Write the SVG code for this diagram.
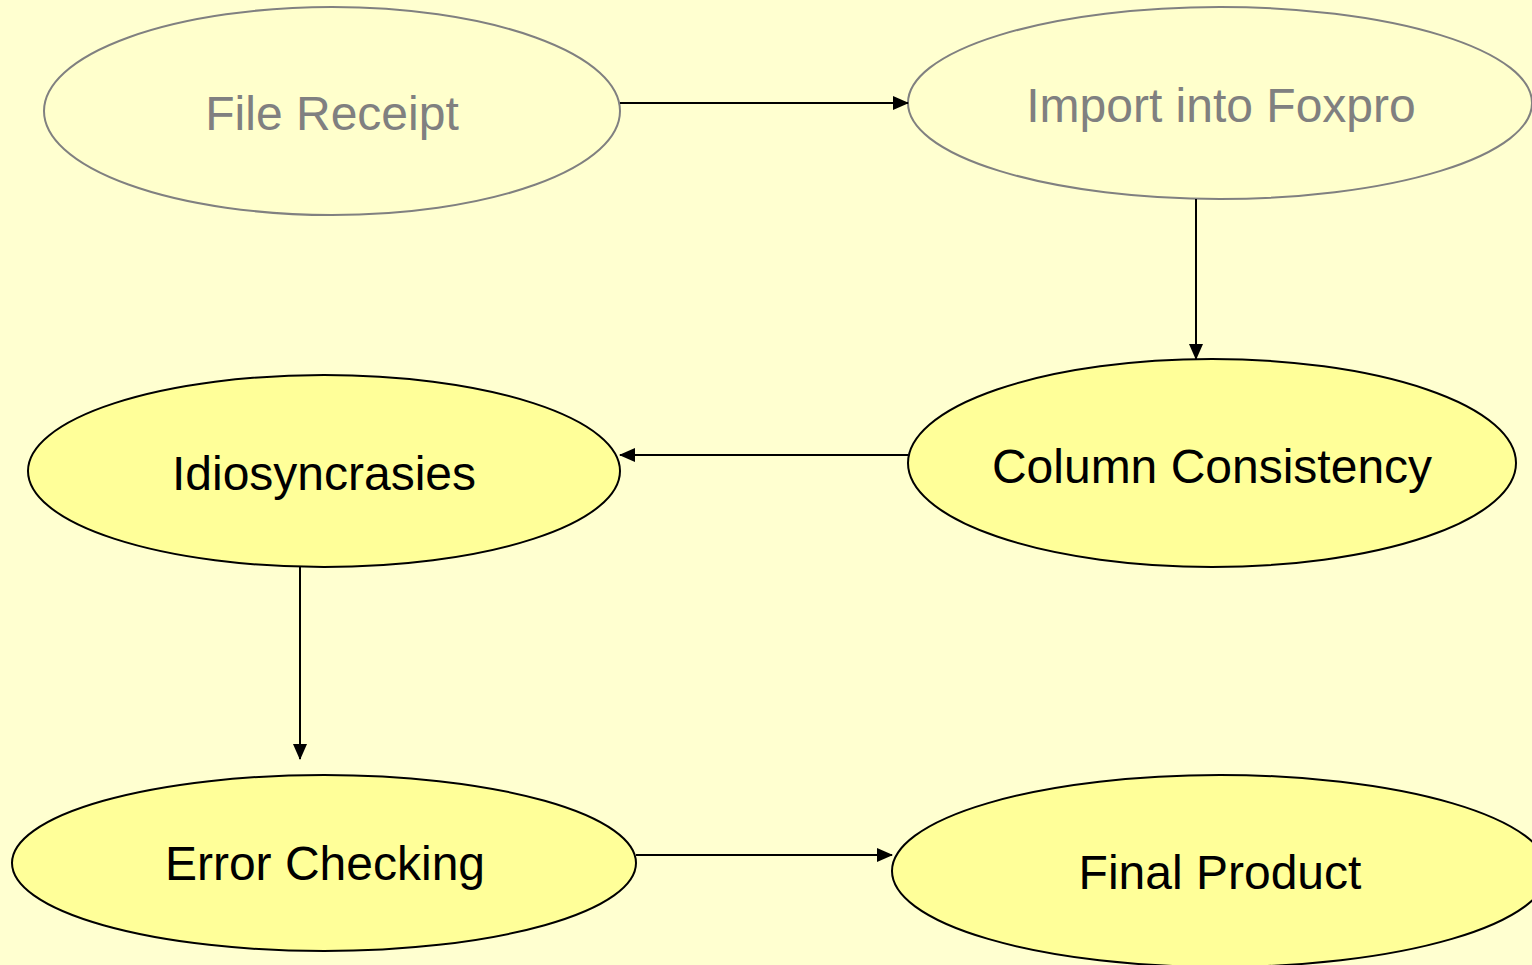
<svg xmlns="http://www.w3.org/2000/svg" width="1532" height="965" viewBox="0 0 1532 965">
<defs>
<marker id="arr" markerWidth="16" markerHeight="14" refX="15" refY="7" orient="auto" markerUnits="userSpaceOnUse">
<path d="M0,0 L16,7 L0,14 Z" fill="#000"/>
</marker>
<style>
.lbl{font-family:"Liberation Sans",Arial,sans-serif;font-size:48px;text-anchor:middle}
.pale ellipse{fill:#FFFFCC;stroke:#808080;stroke-width:2}
.pale text{fill:#808080}
.act ellipse{fill:#FFFF99;stroke:#000;stroke-width:2}
.act text{fill:#000}
.con line{stroke:#000;stroke-width:2;marker-end:url(#arr)}
</style>
</defs>
<rect width="1532" height="965" fill="#FFFFD0"/>
<g id="file-receipt" class="pale">
<ellipse cx="332" cy="111" rx="288" ry="104"/>
<text class="lbl" x="332" y="130">File Receipt</text>
</g>
<g id="import-foxpro" class="pale">
<ellipse cx="1220" cy="103" rx="312" ry="96"/>
<text class="lbl" x="1221" y="122">Import into Foxpro</text>
</g>
<g id="column-consistency" class="act">
<ellipse cx="1212" cy="463" rx="304" ry="104"/>
<text class="lbl" x="1212" y="483">Column Consistency</text>
</g>
<g id="idiosyncrasies" class="act">
<ellipse cx="324" cy="471" rx="296" ry="96"/>
<text class="lbl" x="324" y="490">Idiosyncrasies</text>
</g>
<g id="error-checking" class="act">
<ellipse cx="324" cy="863" rx="312" ry="88"/>
<text class="lbl" x="325" y="880">Error Checking</text>
</g>
<g id="final-product" class="act">
<ellipse cx="1220" cy="871" rx="328" ry="96"/>
<text class="lbl" x="1220" y="889">Final Product</text>
</g>
<g id="connectors" class="con">
<line x1="620" y1="103" x2="908" y2="103"/>
<line x1="1196" y1="199" x2="1196" y2="359"/>
<line x1="908" y1="455" x2="620" y2="455"/>
<line x1="300" y1="567" x2="300" y2="759"/>
<line x1="636" y1="855" x2="892" y2="855"/>
</g>
</svg>
